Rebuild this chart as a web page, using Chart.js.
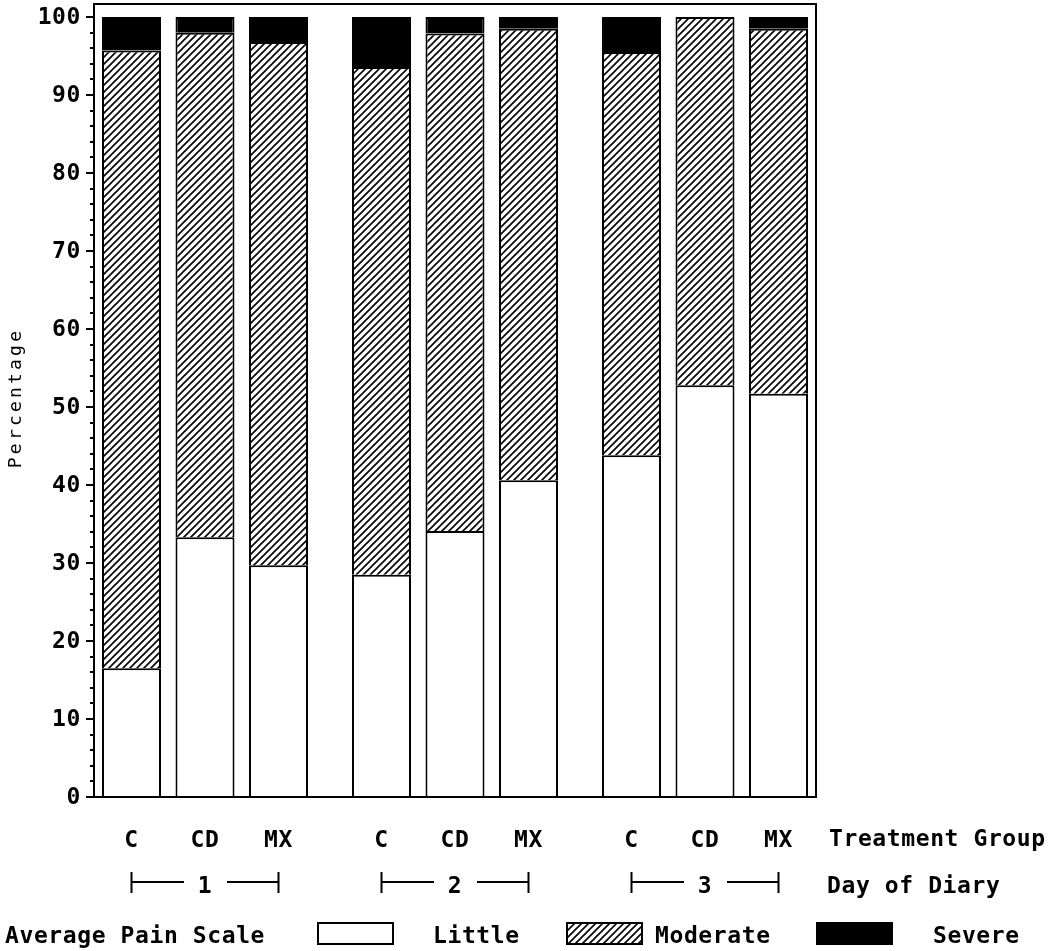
<!DOCTYPE html>
<html>
<head>
<meta charset="utf-8">
<script src="https://cdn.jsdelivr.net/npm/chart.js@4.4.1/dist/chart.umd.min.js"></script>
<style>html,body{margin:0;background:#fff}canvas{display:block}</style>
</head>
<body>
<canvas id="c" width="1050" height="951"></canvas>
<script>
"use strict";
const DAYS = ["1", "2", "3"];
const GROUPS = ["C", "CD", "MX"];
const PAIN = ["Little", "Moderate", "Severe"];
/* percentages, bars in drawing order: day 1 C, CD, MX, day 2 C, CD, MX, ... */
const LITTLE = [16.5, 33.3, 29.7, 28.5, 34.1, 40.6, 43.8, 52.8, 51.7];
const MODERATE = [79.2, 64.7, 67.1, 65.1, 63.8, 57.9, 51.7, 47.2, 46.8];
const SEVERE = [4.3, 2.0, 3.2, 6.4, 2.1, 1.5, 4.5, 0, 1.5];
const Y_TICKS = [0, 10, 20, 30, 40, 50, 60, 70, 80, 90, 100];

const FONT = "'DejaVu Sans Mono', monospace";

function hatch() {
  const c = document.createElement("canvas"); c.width = c.height = 7;
  const g = c.getContext("2d");
  g.fillStyle = "#fff"; g.fillRect(0, 0, 7, 7);
  g.strokeStyle = "#000"; g.lineWidth = 1.6;
  g.beginPath();
  g.moveTo(-1, 8); g.lineTo(8, -1);
  g.moveTo(-1, 1); g.lineTo(1, -1);
  g.moveTo(6, 8); g.lineTo(8, 6);
  g.stroke();
  return g.createPattern(c, "repeat");
}
const FILLS = ["#fff", hatch(), "#000"];

const datasets = [];
GROUPS.forEach((grp, g) => {
  [LITTLE, MODERATE, SEVERE].forEach((vals, p) => {
    datasets.push({
      label: PAIN[p], stack: grp,
      data: DAYS.map((_, d) => ({ x: d, y: vals[d * GROUPS.length + g] })),
      backgroundColor: FILLS[p], borderColor: "#000", borderWidth: 2,
    });
  });
});

/* frame, y ticks, group/day labels and legend row */
const decor = {
  id: "decor",
  afterDatasetsDraw(chart) {
    const { ctx, chartArea: a, scales: { y } } = chart;
    ctx.save();
    ctx.strokeStyle = "#000"; ctx.fillStyle = "#000"; ctx.lineWidth = 2;
    ctx.strokeRect(a.left, a.top, a.right - a.left, a.bottom - a.top);

    ctx.beginPath();
    for (let v = 0; v <= 100; v += 2) {
      const py = Math.round(y.getPixelForValue(v));
      const len = v % 10 === 0 ? 8 : 4;
      ctx.moveTo(a.left - len, py); ctx.lineTo(a.left, py);
    }
    ctx.stroke();

    ctx.font = "bold 23px " + FONT; ctx.letterSpacing = "0.6px";
    ctx.textAlign = "right"; ctx.textBaseline = "middle";
    Y_TICKS.forEach((v) => ctx.fillText(String(v), 81, y.getPixelForValue(v) + 1));

    ctx.save();
    ctx.translate(16, 398); ctx.rotate(-Math.PI / 2);
    ctx.font = "18px " + FONT; ctx.letterSpacing = "3.2px";
    ctx.textAlign = "center"; ctx.textBaseline = "middle";
    ctx.fillText("Percentage", 0, 0);
    ctx.restore();

    ctx.textBaseline = "alphabetic"; ctx.textAlign = "center";
    DAYS.forEach((day, d) => {
      GROUPS.forEach((grp, g) => {
        const bar = chart.getDatasetMeta(g * 3).data[d];
        ctx.fillText(grp, bar.x, 847);
      });
      const x0 = chart.getDatasetMeta(0).data[d].x;
      const x1 = chart.getDatasetMeta((GROUPS.length - 1) * 3).data[d].x;
      const mid = (x0 + x1) / 2;
      ctx.beginPath();
      ctx.moveTo(x0, 872); ctx.lineTo(x0, 893);
      ctx.moveTo(x1, 872); ctx.lineTo(x1, 893);
      ctx.moveTo(x0, 882); ctx.lineTo(mid - 21, 882);
      ctx.moveTo(mid + 22, 882); ctx.lineTo(x1, 882);
      ctx.stroke();
      ctx.fillText(day, mid, 893);
    });

    ctx.textAlign = "left";
    ctx.fillText("Treatment Group", 829, 846);
    ctx.fillText("Day of Diary", 827, 893);
    ctx.fillText("Average Pain Scale", 5, 943);

    const boxes = [[318, 75], [567, 75], [817, 75]];
    const texts = [433, 655, 933];
    PAIN.forEach((name, p) => {
      const [bx, bw] = boxes[p];
      ctx.fillStyle = FILLS[p];
      ctx.fillRect(bx, 923, bw, 21);
      ctx.strokeRect(bx, 923, bw, 21);
      ctx.fillStyle = "#000";
      ctx.fillText(name, texts[p], 943);
    });
    ctx.restore();
  },
};

new Chart(document.getElementById("c"), {
  type: "bar",
  data: { datasets },
  options: {
    responsive: false, animation: false,
    layout: { padding: { left: 94, top: 4, right: 234, bottom: 154 } },
    plugins: { legend: { display: false }, tooltip: { enabled: false } },
    datasets: { bar: { categoryPercentage: 0.882, barPercentage: 0.803 } },
    scales: {
      x: {
        type: "linear", display: false, offset: false, stacked: true,
        min: -0.444, max: 2.444,
        afterBuildTicks: (s) => { s.ticks = DAYS.map((_, i) => ({ value: i })); },
      },
      y: { display: false, stacked: true, min: 0, max: 101.67 },
    },
  },
  plugins: [decor],
});
</script>
</body>
</html>
